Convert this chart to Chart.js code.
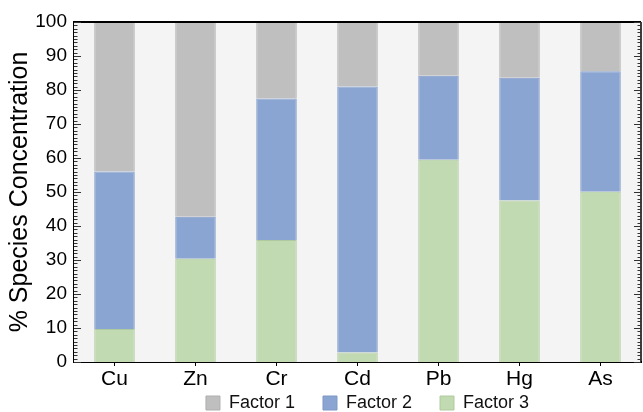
<!DOCTYPE html>
<html>
<head>
<meta charset="utf-8">
<script src="https://cdn.jsdelivr.net/npm/chart.js@4/dist/chart.umd.min.js"></script>
<style>
  html, body { margin: 0; padding: 0; background: #fff; }
  #wrap { width: 643px; height: 412px; }
</style>
</head>
<body>
<div id="wrap"><canvas id="c" width="643" height="412"></canvas></div>
<script>
// Species concentration (%) apportioned to three source factors per element
const elements = ['Cu', 'Zn', 'Cr', 'Cd', 'Pb', 'Hg', 'As'];
const factor1 = [44.0, 57.3, 22.5, 19.0, 15.8, 16.4, 14.5];
const factor2 = [46.3, 12.3, 41.6, 78.2, 24.7, 36.1, 35.4];
const factor3 = [9.7, 30.4, 35.9, 2.8, 59.5, 47.5, 50.1];
const yTicks = [0, 10, 20, 30, 40, 50, 60, 70, 80, 90, 100];

const FONT = "'Liberation Sans', Arial, Helvetica, sans-serif";

// plot background, top frame line and inner minor/major ticks on both sides
const framePlugin = {
  id: 'frame',
  afterLayout(chart) {
    const lg = chart.legend;
    lg.left += 10; lg.right += 10;
    const h = lg.bottom - lg.top;
    lg.top = 366; lg.bottom = 366 + h;
  },
  beforeDatasetsDraw(chart) {
    const {ctx, chartArea: a} = chart;
    ctx.save();
    ctx.fillStyle = '#f4f4f4';
    ctx.fillRect(a.left, a.top, a.right - a.left, a.bottom - a.top);
    ctx.restore();
  },
  afterDraw(chart) {
    const {ctx, chartArea: a} = chart;
    const y = chart.scales.y;
    ctx.save();
    ctx.strokeStyle = '#000';
    ctx.lineWidth = 2;
    ctx.beginPath();
    ctx.moveTo(a.left, a.top);
    ctx.lineTo(a.right, a.top);
    ctx.stroke();
    ctx.lineWidth = 1.5;
    ctx.beginPath();
    ctx.moveTo(a.right, a.top);
    ctx.lineTo(a.right, a.bottom);
    ctx.stroke();
    ctx.lineWidth = 1;
    ctx.strokeStyle = '#333';
    for (let v = 0; v <= 100; v++) {
      const py = Math.round(y.getPixelForValue(v)) + 0.5;
      const len = v % 10 === 0 ? 7 : 3.5;
      ctx.beginPath();
      ctx.moveTo(a.left, py);
      ctx.lineTo(a.left + len, py);
      ctx.moveTo(a.right, py);
      ctx.lineTo(a.right - len, py);
      ctx.stroke();
    }
    ctx.restore();
  }
};

new Chart(document.getElementById('c'), {
  type: 'bar',
  data: {
    labels: elements,
    datasets: [
      { label: 'Factor 3', data: factor3, backgroundColor: '#c1dab1', borderColor: '#b0ca9f', borderWidth: 1 },
      { label: 'Factor 2', data: factor2, backgroundColor: '#8ba5d3', borderColor: '#7f98c6', borderWidth: 1 },
      { label: 'Factor 1', data: factor1, backgroundColor: '#bfbfbf', borderColor: '#aeaeae', borderWidth: 1 }
    ]
  },
  options: {
    responsive: false,
    animation: false,
    devicePixelRatio: 1,
    layout: { padding: { top: 22, right: 2, left: 0, bottom: -52 } },
    datasets: { bar: { categoryPercentage: 1.0, barPercentage: 0.5 } },
    plugins: {
      tooltip: { enabled: false },
      legend: {
        position: 'bottom',
        fullSize: false,
        reverse: true,
        labels: {
          boxWidth: 14,
          boxHeight: 14,
          padding: 28,
          color: '#111',
          font: { family: FONT, size: 18 }
        }
      }
    },
    scales: {
      x: {
        stacked: true,
        afterFit(s) { s.height = 46; },
        grid: { display: true, drawOnChartArea: false, drawTicks: true, tickLength: 4, offset: false, color: '#000' },
        border: { display: true, color: '#000', width: 2 },
        ticks: { color: '#000', padding: 1, font: { family: FONT, size: 21 } }
      },
      y: {
        stacked: true,
        min: 0,
        max: 100,
        afterFit(s) { s.width = 74; },
        afterBuildTicks(s) { s.ticks = yTicks.map(v => ({ value: v })); },
        grid: { display: false, drawTicks: false },
        border: { display: true, color: '#000', width: 2 },
        ticks: { color: '#000', padding: 7, font: { family: FONT, size: 19 } },
        title: {
          display: true,
          text: '% Species Concentration',
          color: '#000',
          padding: { top: 5, bottom: 0 },
          font: { family: FONT, size: 25 }
        }
      }
    }
  },
  plugins: [framePlugin]
});
</script>
</body>
</html>
